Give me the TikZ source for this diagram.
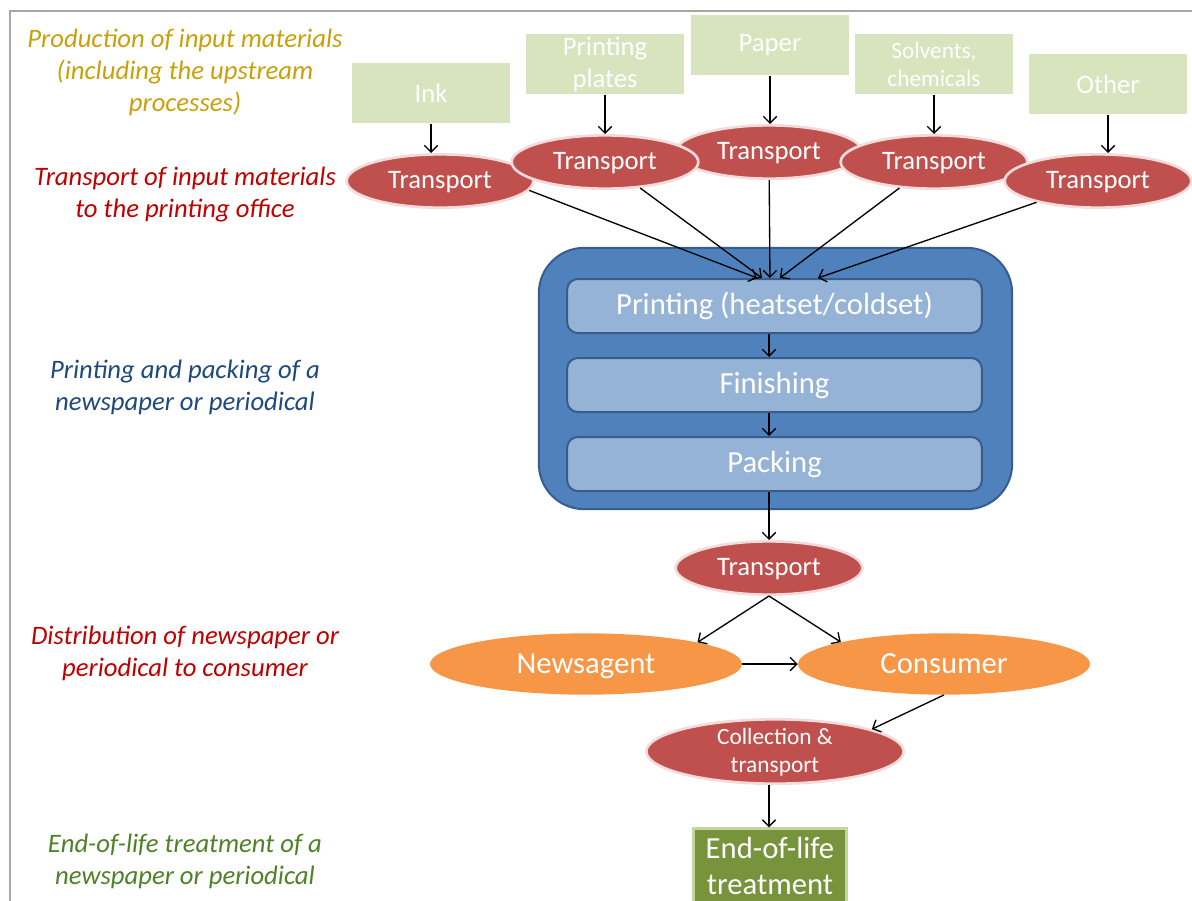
\documentclass[tikz,border=0pt]{standalone}
\usepackage{fontspec}
\setmainfont{Carlito}
\usepackage{tikz}
\usetikzlibrary{shapes.geometric}
\usetikzlibrary{positioning}
\usetikzlibrary{arrows.meta}
\definecolor{inputgreen}{RGB}{215,228,189}
\definecolor{transred}{RGB}{192,80,77}
\definecolor{transrim}{RGB}{242,220,219}
\definecolor{plantblue}{RGB}{79,129,189}
\definecolor{plantrim}{RGB}{56,93,138}
\definecolor{stageblue}{RGB}{149,179,215}
\definecolor{distorange}{RGB}{247,150,70}
\definecolor{eolgreen}{RGB}{119,147,60}
\definecolor{eolrim}{RGB}{195,214,155}
\definecolor{labgold}{RGB}{200,160,10}
\definecolor{labred}{RGB}{192,0,0}
\definecolor{labblue}{RGB}{31,73,125}
\definecolor{labgreen}{RGB}{79,129,40}
\definecolor{framegray}{RGB}{166,166,166}
\tikzset{node distance=17.25pt,
      input/.style={fill=inputgreen, text=white, minimum width=118pt,
        minimum height=45.5pt, inner sep=0pt, align=center,
        font=\fontsize{20}{24}\selectfont},
      transport/.style={ellipse, fill=transred, draw=transrim, line width=2pt,
        text=white, minimum width=140pt, minimum height=40pt, inner sep=0pt,
        text depth=1pt, align=center, font=\fontsize{20}{24}\selectfont},
      plant/.style={fill=plantblue, draw=plantrim, line width=1.5pt,
        rounded corners=34pt, minimum width=355pt, minimum height=196pt},
      stage/.style={fill=stageblue, draw=plantrim, line width=1.5pt,
        rounded corners=8pt, text=white, minimum width=311pt,
        minimum height=40.5pt, inner sep=0pt, font=\fontsize{23}{27}\selectfont},
      dist/.style={ellipse, fill=distorange, text=white, minimum height=46pt,
        inner sep=0pt, text depth=0pt, font=\fontsize{23}{27}\selectfont},
      eol/.style={fill=eolgreen, draw=eolrim, line width=2pt, text=white,
        minimum width=115pt, minimum height=56pt, inner sep=0pt, align=center,
        font=\fontsize{23}{27}\selectfont},
      lab/.style={align=center, font=\itshape\fontsize{20}{24}\selectfont},
      flow/.style={-{Straight Barb[length=5pt, width=10pt]}, line width=1pt}}

\begin{document}
\begin{tikzpicture}[x=0.75pt, y=-0.75pt]
          \useasboundingbox (0,0) rectangle (1192,900);
          \draw[framegray, line width=1.5pt] (10,910) -- (10,11) -- (1200,11);

          \node[lab, text=labgold] (lprod) at (185,72) {Production of input materials\\(including the upstream\\processes)};
          \node[lab, text=labred] (ltrans) at (185,195) {Transport of input materials\\to the printing office};
          \node[lab, text=labblue] (lprint) at (185,387) {Printing and packing of a\\newspaper or periodical};
          \node[lab, text=labred] (ldist) at (185,653) {Distribution of newspaper or\\periodical to consumer};
          \node[lab, text=labgreen] (leol) at (185,861) {End-of-life treatment of a\\newspaper or periodical};

          \node[input] (ink) at (431,93) {Ink};
          \node[input] (plates) at (605,64) {Printing\\plates};
          \node[input] (paper) at (770,45) {Paper};
          \node[input, font=\fontsize{17.5}{21}\selectfont] (solv) at (934,64) {Solvents,\\chemicals};
          \node[input] (other) at (1108,84) {Other};

          \node[transport] (t1) at (440,181) {Transport};
          \node[transport] (t3) at (769,152) {Transport};
          \node[transport] (t2) at (605,162) {Transport};
          \node[transport] (t4) at (934,162) {Transport};
          \node[transport] (t5) at (1098,181) {Transport};

          \node[plant] (plant) at (775.5,378.5) {};
          \node[stage] (print) at (774.5,306) {Printing (heatset/coldset)};
          \node[stage, below=of print] (finish) {Finishing};
          \node[stage, below=of finish] (pack) {Packing};

          \node[transport] (tr) at (769,568) {Transport};
          \node[dist, minimum width=234pt] (news) at (586,664) {Newsagent};
          \node[dist, minimum width=219pt] (cons) at (944,664) {Consumer};
          \node[transport, minimum width=193pt, minimum height=41pt,
            font=\fontsize{17.5}{21}\selectfont] (coll) at (775,751.5) {Collection \&\\transport};
          \node[eol] (eol) at (770,866) {End-of-life\\treatment};

          \draw[flow] (ink) -- (ink |- t1.north);
          \draw[flow] (plates) -- (plates |- t2.north);
          \draw[flow] (paper) -- (paper |- t3.north);
          \draw[flow] (solv) -- (solv |- t4.north);
          \draw[flow] (other) -- (other |- t5.north);

          \draw[flow] (t1.-6) -- ([xshift=-13pt]print.north);
          \draw[flow] (t2) -- ([xshift=-9.4pt]print.north);
          \draw[flow] (t3) -- ([xshift=-3.4pt]print.north);
          \draw[flow] (t4) -- ([xshift=4pt]print.north);
          \draw[flow] (t5) -- ([xshift=32.6pt]print.north);

          \draw[flow] (print.south -| tr) -- (finish.north -| tr);
          \draw[flow] (finish.south -| tr) -- (pack.north -| tr);
          \draw[flow] (pack.south -| tr) -- (tr);

          \draw[flow] (tr.south) -- (news.11);
          \draw[flow] (tr.south) -- (cons.168);
          \draw[flow] (news) -- (cons);
          \draw[flow] (cons.south) -- (coll.13);
          \draw[flow] (coll.south -| tr) -- (eol.north -| tr);
       \end{tikzpicture}
\end{document}
